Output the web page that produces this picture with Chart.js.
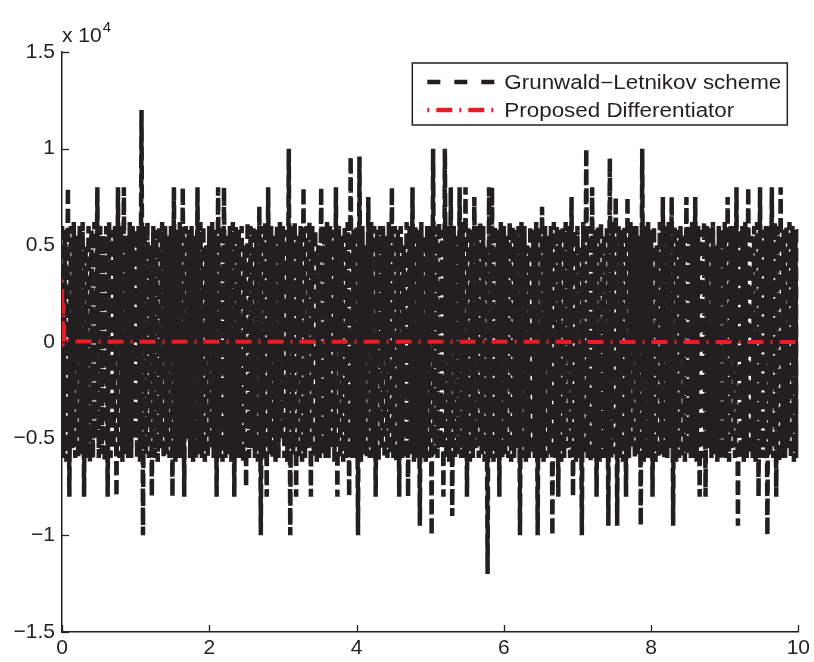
<!DOCTYPE html>
<html><head><meta charset="utf-8">
<script src="https://cdn.jsdelivr.net/npm/chart.js@4.4.1/dist/chart.umd.min.js"></script>
<style>html,body{margin:0;padding:0;background:#fff}canvas{display:block}</style>
</head><body>
<canvas id="c" width="814" height="662"></canvas>
<script>
// Values in units of 10^4, one sample every sampleStep seconds
const sampleStep = 0.02;
const glValues = [
  0.6, -0.6, 0.58, -0.62, 0.8, -0.8, 0.6, -0.55, 0.62, -0.6,
  0.55, -0.6, 0.6, -0.58, 0.62, -0.8, 0.5, -0.6, 0.6, -0.62,
  0.58, -0.6, 0.62, -0.5, 0.8, -0.6, 0.6, -0.58, 0.55, -0.62,
  0.6, -0.8, 0.62, -0.6, 0.58, -0.55, 0.6, -0.8, 0.8, -0.6,
  0.6, -0.62, 0.8, -0.58, 0.55, -0.6, 0.62, -0.6, 0.6, -0.5,
  0.58, -0.6, 0.6, -0.62, 1.2, -1.0, 0.6, -0.58, 0.62, -0.6,
  0.5, -0.8, 0.6, -0.6, 0.58, -0.62, 0.6, -0.55, 0.62, -0.6,
  0.6, -0.58, 0.55, -0.6, 0.6, -0.8, 0.8, -0.62, 0.58, -0.6,
  0.62, -0.6, 0.8, -0.8, 0.6, -0.5, 0.58, -0.6, 0.6, -0.62,
  0.55, -0.6, 0.8, -0.58, 0.62, -0.6, 0.6, -0.62, 0.5, -0.6,
  0.6, -0.55, 0.62, -0.6, 0.58, -0.8, 0.8, -0.6, 0.6, -0.62,
  0.8, -0.6, 0.55, -0.58, 0.6, -0.62, 0.62, -0.8, 0.6, -0.6,
  0.58, -0.6, 0.6, -0.62, 0.5, -0.75, 0.62, -0.6, 0.6, -0.55,
  0.6, -0.6, 0.58, -0.62, 0.7, -1.0, 0.6, -0.6, 0.62, -0.8,
  0.8, -0.58, 0.6, -0.6, 0.55, -0.62, 0.6, -0.6, 0.62, -0.5,
  0.6, -0.6, 0.58, -0.62, 1.0, -1.0, 0.6, -0.58, 0.62, -0.8,
  0.55, -0.6, 0.6, -0.62, 0.8, -0.6, 0.6, -0.55, 0.62, -0.8,
  0.6, -0.6, 0.58, -0.62, 0.5, -0.6, 0.8, -0.58, 0.6, -0.6,
  0.62, -0.6, 0.6, -0.55, 0.58, -0.62, 0.8, -0.8, 0.6, -0.6,
  0.55, -0.62, 0.6, -0.6, 0.62, -0.8, 0.96, -0.6, 0.58, -0.6,
  0.6, -1.0, 0.96, -0.62, 0.6, -0.58, 0.5, -0.6, 0.75, -0.6,
  0.62, -0.6, 0.6, -0.8, 0.58, -0.62, 0.6, -0.55, 0.6, -0.6,
  0.55, -0.6, 0.62, -0.58, 0.8, -0.6, 0.6, -0.62, 0.58, -0.8,
  0.6, -0.6, 0.5, -0.6, 0.62, -0.8, 0.6, -0.58, 0.8, -0.62,
  0.6, -0.6, 0.58, -0.95, 0.62, -0.6, 0.55, -0.62, 0.6, -0.6,
  0.6, -1.0, 1.0, -0.58, 0.6, -0.6, 0.62, -0.55, 0.58, -0.8,
  1.0, -0.6, 0.6, -0.62, 0.8, -0.9, 0.6, -0.6, 0.55, -0.58,
  0.8, -0.6, 0.62, -0.6, 0.8, -0.8, 0.6, -0.62, 0.58, -0.6,
  0.75, -0.55, 0.6, -0.6, 0.62, -0.58, 0.6, -0.62, 0.5, -1.2,
  0.8, -0.6, 0.8, -0.62, 0.6, -0.6, 0.58, -0.8, 0.62, -0.6,
  0.6, -0.58, 0.55, -0.6, 0.62, -0.62, 0.6, -0.6, 0.58, -0.55,
  0.6, -1.0, 0.62, -0.6, 0.6, -0.62, 0.5, -0.6, 0.6, -0.58,
  0.58, -0.6, 0.62, -1.0, 0.6, -0.6, 0.7, -0.62, 0.6, -0.6,
  0.55, -0.58, 0.6, -1.0, 0.62, -0.6, 0.6, -0.8, 0.58, -0.62,
  0.6, -0.6, 0.62, -0.55, 0.6, -0.6, 0.75, -0.8, 0.58, -0.62,
  0.6, -0.6, 0.5, -1.0, 0.62, -0.58, 1.0, -0.6, 0.6, -0.62,
  0.8, -0.6, 0.58, -0.8, 0.6, -0.62, 0.62, -0.6, 0.55, -0.6,
  0.6, -0.95, 0.95, -0.6, 0.62, -0.58, 0.75, -0.95, 0.6, -0.6,
  0.58, -0.62, 0.6, -0.8, 0.75, -0.6, 0.62, -0.55, 0.6, -0.6,
  0.6, -0.58, 0.55, -0.95, 1.0, -0.62, 0.6, -0.6, 0.62, -0.6,
  0.58, -0.8, 0.6, -0.62, 0.5, -0.6, 0.62, -0.58, 0.75, -0.6,
  0.6, -0.6, 0.62, -0.55, 0.75, -0.95, 0.6, -0.62, 0.58, -0.6,
  0.6, -0.6, 0.55, -0.62, 0.75, -0.58, 0.6, -0.6, 0.62, -0.6,
  0.75, -0.62, 0.6, -0.8, 0.58, -0.6, 0.62, -0.8, 0.6, -0.55,
  0.6, -0.6, 0.62, -0.58, 0.5, -0.62, 0.6, -0.6, 0.58, -0.6,
  0.62, -0.6, 0.75, -0.62, 0.6, -0.55, 0.6, -0.6, 0.8, -0.95,
  0.58, -0.6, 0.6, -0.62, 0.62, -0.6, 0.8, -0.58, 0.55, -0.6,
  0.6, -0.62, 0.62, -0.8, 0.8, -0.6, 0.58, -0.6, 0.6, -1.0,
  0.6, -0.58, 0.8, -0.6, 0.62, -0.8, 0.6, -0.62, 0.8, -0.6,
  0.58, -0.6, 0.6, -0.55, 0.62, -0.6, 0.6, -0.62, 0.58, -0.6,
  0.6
];
const pdTimes  = [0, 0.01, 0.02, 0.03, 0.05, 0.08, 0.12, 0.2, 10];
const pdValues = [0.32, -0.04, 0.2, 0.02, 0.04, 0.01, 0.005, 0.002, 0];
const seriesLabels = ['Grunwald\u2212Letnikov scheme', 'Proposed Differentiator'];
const xTicks = [0, 2, 4, 6, 8, 10];
const xTickLabels = ['0', '2', '4', '6', '8', '10'];
const yTicks = [-1.5, -1, -0.5, 0, 0.5, 1, 1.5];
const yTickLabels = ['\u22121.5', '\u22121', '\u22120.5', '0', '0.5', '1', '1.5'];
const exponentLabel = ['x 10', '4'];

const INK = '#231f20';
const RED = '#ed1c24';
const FONT = "'Liberation Sans', Arial, sans-serif";

const glPoints = glValues.map((v, i) => ({x: Math.round(i * sampleStep * 1000) / 1000, y: v}));
const pdPoints = pdTimes.map((t, i) => ({x: t, y: pdValues[i]}));

const legendDashes = [[13, 14], [2, 7, 16, 7]];

const decor = {
  id: 'decor',
  afterDraw(chart) {
    const ctx = chart.ctx, xs = chart.scales.x, ys = chart.scales.y, a = chart.chartArea;
    ctx.save();
    ctx.strokeStyle = INK; ctx.lineWidth = 1.3; ctx.setLineDash([]);
    xs.ticks.forEach(t => {
      const px = Math.round(xs.getPixelForValue(t.value)) + 0.5;
      ctx.beginPath(); ctx.moveTo(px, a.bottom); ctx.lineTo(px, a.bottom - 7); ctx.stroke();
    });
    ys.ticks.forEach(t => {
      const py = Math.round(ys.getPixelForValue(t.value)) + 0.5;
      ctx.beginPath(); ctx.moveTo(a.left, py); ctx.lineTo(a.left + 7, py); ctx.stroke();
    });
    // exponent label
    ctx.fillStyle = INK; ctx.textAlign = 'left'; ctx.textBaseline = 'alphabetic';
    ctx.font = '21px ' + FONT;
    ctx.fillText(exponentLabel[0], a.left, a.top - 10);
    const w = ctx.measureText(exponentLabel[0]).width;
    ctx.font = '15px ' + FONT;
    ctx.fillText(exponentLabel[1], a.left + w + 1, a.top - 20);
    // legend
    const bx = a.right - 386, by = a.top + 11, bw = 375, bh = 62;
    ctx.fillStyle = '#fff'; ctx.fillRect(bx, by, bw, bh);
    ctx.strokeStyle = INK; ctx.lineWidth = 1.5; ctx.strokeRect(bx, by, bw, bh);
    const rows = [by + 19, by + 47];
    ctx.font = '19.5px ' + FONT;
    const natural = ctx.measureText(chart.data.datasets[0].label).width;
    const sx = 277 / natural;
    chart.data.datasets.forEach((ds, i) => {
      const y = rows[i];
      ctx.save();
      ctx.strokeStyle = ds.borderColor; ctx.lineWidth = 4.5;
      ctx.setLineDash(legendDashes[i]); ctx.lineCap = 'butt';
      ctx.beginPath(); ctx.moveTo(bx + 15, y); ctx.lineTo(bx + 82, y); ctx.stroke();
      ctx.restore();
      ctx.save();
      ctx.fillStyle = INK; ctx.textBaseline = 'alphabetic';
      ctx.translate(bx + 92, y + 6.5); ctx.scale(sx, 1);
      ctx.fillText(ds.label, 0, 0);
      ctx.restore();
    });
    ctx.restore();
  }
};

new Chart(document.getElementById('c').getContext('2d'), {
  type: 'line',
  data: {
    datasets: [
      {label: seriesLabels[0], data: glPoints, borderColor: INK, borderWidth: 4.5, borderDash: [14, 5],
       pointRadius: 0, fill: false, tension: 0, order: 1},
      {label: seriesLabels[1], data: pdPoints, borderColor: RED, borderWidth: 4, borderDash: [2, 7, 16, 7],
       pointRadius: 0, fill: false, tension: 0, order: 0}
    ]
  },
  options: {
    responsive: false, animation: false, devicePixelRatio: 1,
    layout: {padding: {left: 0, top: 52, right: 15, bottom: 0}},
    plugins: {legend: {display: false}, tooltip: {enabled: false}},
    scales: {
      x: {
        type: 'linear', min: 0, max: 10,
        afterBuildTicks: s => { s.ticks = xTicks.map(v => ({value: v})); },
        afterFit: s => { s.height = 30; },
        grid: {display: false, drawTicks: false},
        border: {display: true, color: INK, width: 1.5},
        ticks: {padding: 4, autoSkip: false, maxRotation: 0, color: INK,
                font: {family: FONT, size: 21},
                callback: v => xTickLabels[xTicks.indexOf(v)]}
      },
      y: {
        type: 'linear', min: -1.5, max: 1.5,
        afterBuildTicks: s => { s.ticks = yTicks.map(v => ({value: v})); },
        afterFit: s => { s.width = 62; },
        grid: {display: false, drawTicks: false},
        border: {display: true, color: INK, width: 1.5},
        ticks: {padding: 7, color: INK, font: {family: FONT, size: 21},
                callback: v => yTickLabels[yTicks.indexOf(v)]}
      }
    }
  },
  plugins: [decor]
});
</script>
</body></html>
